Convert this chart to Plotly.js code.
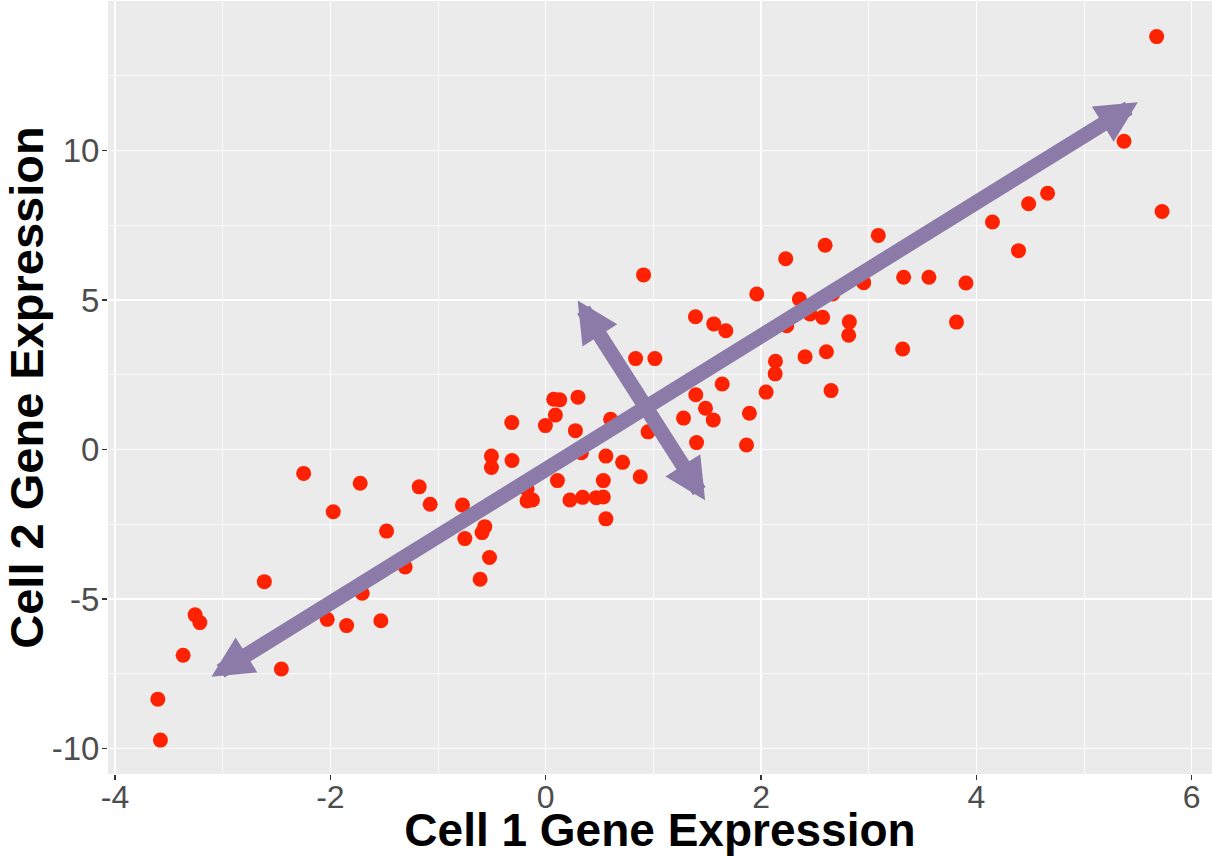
<!DOCTYPE html>
<html>
<head>
<meta charset="utf-8">
<script src="https://cdn.plot.ly/plotly-3.0.1.min.js"></script>
<style>html,body{margin:0;padding:0;background:#fff;}#chart{width:1212px;height:856px;}</style>
</head>
<body>
<div id="chart"></div>
<script>
// Cell 1 gene expression (x) and Cell 2 gene expression (y)
var cell1 = [5.674, 5.371, 5.724, 4.661, 4.485, 4.149, 4.391, 3.089, 2.595, 2.229,
  3.324, 3.559, 3.903, 2.953, 1.960, 2.356, 2.665, 1.391, 1.561, 1.673,
  2.238, 2.455, 2.572, 2.820, 2.814, 3.815, 3.315, 2.134, 2.131, 2.409,
  2.607, 2.650, 1.639, 1.394, 2.047, 1.484, 1.280, 1.556, 1.892, 0.909,
  0.835, 1.014, 0.603, 0.951, 1.401, 1.865, -0.315, 0.074, 0.130, 0.300,
  0.090, -0.003, 0.276, -0.504, -0.504, -0.313, 0.331, 0.559, 0.714, 0.878,
  0.109, 0.535, -0.173, -0.173, -0.123, 0.225, 0.343, 0.470, 0.535, 0.559,
  -2.248, -1.973, -1.723, -1.478, -1.175, -1.073, -0.773, -0.751, -1.305, -1.704,
  -0.566, -0.591, -0.522, -0.609, -2.613, -3.256, -3.212, -3.367, -2.455, -2.029,
  -1.849, -1.531, -3.602, -3.578];
var cell2 = [13.81, 10.31, 7.96, 8.57, 8.22, 7.61, 6.65, 7.16, 6.83, 6.38,
  5.76, 5.76, 5.57, 5.58, 5.20, 5.03, 5.20, 4.44, 4.20, 3.97,
  4.14, 4.53, 4.42, 4.27, 3.82, 4.26, 3.36, 2.95, 2.53, 3.10,
  3.27, 1.97, 2.19, 1.83, 1.92, 1.38, 1.05, 0.99, 1.21, 5.84,
  3.04, 3.04, 1.01, 0.59, 0.23, 0.15, 0.90, 1.68, 1.66, 1.75,
  1.15, 0.80, 0.63, -0.22, -0.60, -0.37, -0.11, -0.22, -0.43, -0.91,
  -1.04, -1.04, -1.34, -1.72, -1.69, -1.69, -1.60, -1.61, -1.59, -2.32,
  -0.80, -2.08, -1.13, -2.73, -1.25, -1.83, -1.86, -2.98, -3.93, -4.81,
  -2.58, -2.78, -3.61, -4.34, -4.42, -5.53, -5.79, -6.88, -7.34, -5.68,
  -5.89, -5.73, -8.35, -9.72];

var xTickVals = [-4, -2, 0, 2, 4, 6];
var xTickText = ["-4", "-2", "0", "2", "4", "6"];
var yTickVals = [-10, -5, 0, 5, 10];
var yTickText = ["-10", "-5", "0", "5", "10"];

// principal directions drawn as double-headed arrows (tip positions in data units)
var mainArrowStart = [-3.118, -7.63];
var mainArrowEnd = [5.499, 11.61];
var crossArrowStart = [1.489, -1.746];
var crossArrowEnd = [0.297, 4.98];

var arrowColor = "rgb(140,122,168)";

var trace = {
  x: cell1, y: cell2, type: "scatter", mode: "markers",
  marker: {color: "#ff2200", size: 15, line: {width: 0}},
  hoverinfo: "x+y"
};

function arrow(s, e) {
  return {
    x: e[0], y: e[1], ax: s[0], ay: s[1],
    xref: "x", yref: "y", axref: "x", ayref: "y",
    text: "", font: {size: 1},
    showarrow: true, arrowside: "end+start",
    arrowhead: 2, startarrowhead: 2,
    arrowsize: 0.55, startarrowsize: 0.55,
    arrowwidth: 15, arrowcolor: arrowColor,
    standoff: 0, startstandoff: 0
  };
}

var layout = {
  width: 1212, height: 856,
  margin: {l: 108, r: 0, t: 1, b: 82},
  paper_bgcolor: "#ffffff",
  plot_bgcolor: "#EBEBEB",
  showlegend: false,
  font: {family: "Liberation Sans, Arial, sans-serif"},
  xaxis: {
    range: [-4.065, 6.188],
    tickvals: xTickVals, ticktext: xTickText,
    showgrid: true, gridcolor: "#ffffff", gridwidth: 1.4,
    minor: {showgrid: true, dtick: 1, tick0: -3, gridcolor: "#ffffff", gridwidth: 0.7},
    zeroline: false, showline: false,
    ticks: "outside", ticklen: 5, tickwidth: 1.1, tickcolor: "#333333",
    ticklabelstandoff: -10,
    tickfont: {size: 32, color: "#4D4D4D"},
    title: {text: "Cell 1 Gene Expression", font: {size: 46, color: "#000000", family: "Liberation Sans, Arial, sans-serif", weight: "bold"}, standoff: 3}
  },
  yaxis: {
    range: [-10.853, 15.0],
    tickvals: yTickVals, ticktext: yTickText,
    showgrid: true, gridcolor: "#ffffff", gridwidth: 1.4,
    minor: {showgrid: true, dtick: 5, tick0: -7.5, gridcolor: "#ffffff", gridwidth: 0.7},
    zeroline: false, showline: false,
    ticks: "outside", ticklen: 5, tickwidth: 1.1, tickcolor: "#333333",
    ticklabelstandoff: -4,
    tickfont: {size: 33, color: "#4D4D4D"},
    title: {text: "Cell 2 Gene Expression", font: {size: 47, color: "#000000", family: "Liberation Sans, Arial, sans-serif", weight: "bold"}, standoff: 4}
  },
  annotations: [arrow(mainArrowStart, mainArrowEnd), arrow(crossArrowStart, crossArrowEnd)]
};

Plotly.newPlot("chart", [trace], layout, {displayModeBar: false, staticPlot: true});
</script>
</body>
</html>
